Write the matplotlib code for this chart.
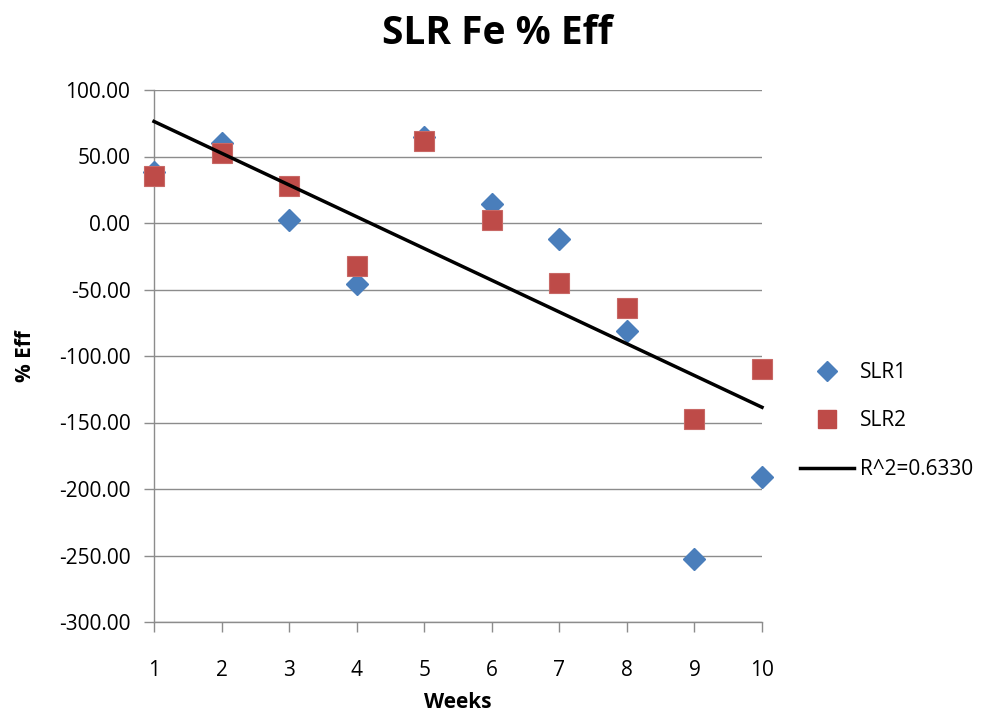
import numpy as np
import matplotlib
matplotlib.use("Agg")
import matplotlib.pyplot as plt
from matplotlib.lines import Line2D

weeks = [1, 2, 3, 4, 5, 6, 7, 8, 9, 10]
slr1 = [38, 60, 2, -46, 65, 14, -12, -81, -253, -191]
slr2 = [35, 53, 28, -32, 62, 2, -45, -64, -147, -110]
trend_label = "R^2=0.6330"
title = "SLR Fe % Eff"
xlabel = "Weeks"
ylabel = "% Eff"
yticks = [100, 50, 0, -50, -100, -150, -200, -250, -300]

plt.rcParams['font.family'] = ['Open Sans', 'DejaVu Sans']

fig = plt.figure(figsize=(9.95, 7.13), dpi=100)
ax = fig.add_axes([154/995, 1-622/713, (762-154)/995, (622-90)/713])

blue = '#4A7EBB'
red = '#BE4B48'

ax.plot(weeks, slr1, linestyle='none', marker='D', markersize=11,
        color=blue, markeredgecolor=blue, zorder=3, clip_on=False)
ax.plot(weeks, slr2, linestyle='none', marker='s', markersize=15,
        color=red, markeredgecolor='#C86865', markeredgewidth=0.8, zorder=4,
        clip_on=False)

# linear trend fitted to both series combined
xs = np.array(weeks + weeks, dtype=float)
ys = np.array(slr1 + slr2, dtype=float)
m, b = np.polyfit(xs, ys, 1)
xl = np.array([weeks[0], weeks[-1]], dtype=float)
ax.plot(xl, m*xl + b, color='black', linewidth=2.5, zorder=5, clip_on=False)

ax.set_xlim(1, 10)
ax.set_ylim(-300, 100)
ax.set_xticks(weeks)
ax.set_xticklabels([str(w) for w in weeks])
ax.set_yticks(yticks)
ax.set_yticklabels([f"{v:.2f}" for v in yticks])
ax.yaxis.grid(True, color='#8C8C8C', linewidth=1)
ax.set_axisbelow(True)
for s in ['top', 'right']:
    ax.spines[s].set_visible(False)
for s in ['left', 'bottom']:
    ax.spines[s].set_color('#8C8C8C')
    ax.spines[s].set_linewidth(1)
ax.tick_params(axis='both', colors='#8C8C8C', labelcolor='black', labelsize=15,
               length=7, width=1, direction='out')
ax.tick_params(axis='x', pad=20)
ax.tick_params(axis='y', pad=10)

ax.set_xlabel(xlabel, fontsize=15, fontweight='bold')
ax.set_ylabel(ylabel, fontsize=15, fontweight='bold')
ax.xaxis.set_label_coords(0.5, -(692-622)/532)
ax.yaxis.set_label_coords((36-154)/608, 0.5)
fig.text(0.5, 1-34/713, title, ha='center', va='center', fontsize=28, fontweight='bold')

handles = [
    Line2D([], [], linestyle='none', marker='D', markersize=10, color=blue),
    Line2D([], [], linestyle='none', marker='s', markersize=13, color=red),
    Line2D([], [], color='black', linewidth=2.5),
]
fig.legend(handles, ['SLR1', 'SLR2', trend_label], loc='center left',
           bbox_to_anchor=(781/995, 1-421/713), frameon=False, fontsize=15,
           labelspacing=1.32, handlelength=2.6, handletextpad=0.3)

fig.savefig('out.png', dpi=100)
